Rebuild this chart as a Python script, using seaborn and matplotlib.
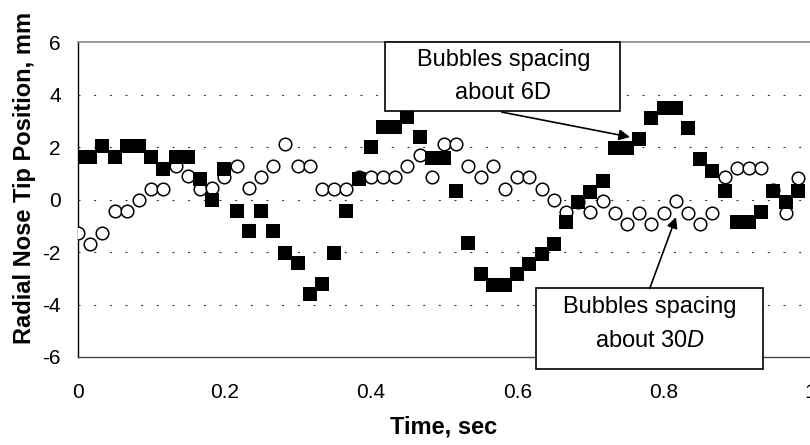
import numpy as np
import pandas as pd
import matplotlib
matplotlib.use("Agg")
import matplotlib.pyplot as plt
import seaborn as sns
from matplotlib.patches import Rectangle

# ---- data ----
dt = 1.0 / 60.0
squares_6D = [1.63, 1.63, 2.03, 1.63, 2.03, 2.03, 1.63, 1.18, 1.63, 1.63,
              0.78, 0.00, 1.18, -0.44, -1.20, -0.44, -1.19, -2.02, -2.43, -3.60,
              -3.22, -2.04, -0.42, 0.78, 1.99, 2.78, 2.78, 3.13, 2.37, 1.58,
              1.58, 0.34, -1.67, -2.84, -3.27, -3.27, -2.85, -2.46, -2.08, -1.70,
              -0.87, -0.10, 0.30, 0.72, 1.98, 1.98, 2.32, 3.10, 3.49, 3.49,
              2.71, 1.54, 1.10, 0.31, -0.87, -0.87, -0.48, 0.31, -0.10, 0.31]
circles_30D = [-1.28, -1.71, -1.26, -0.45, -0.45, 0.00, 0.41, 0.41, 1.26, 0.90,
               0.41, 0.45, 0.86, 1.26, 0.44, 0.86, 1.26, 2.13, 1.26, 1.26,
               0.41, 0.41, 0.41, 0.86, 0.86, 0.86, 0.86, 1.26, 1.68, 0.86,
               2.13, 2.13, 1.26, 0.86, 1.26, 0.41, 0.86, 0.86, 0.41, 0.00,
               -0.47, -0.10, -0.47, -0.05, -0.50, -0.92, -0.50, -0.94, -0.50, -0.05,
               -0.50, -0.94, -0.50, 0.86, 1.21, 1.21, 1.21, 0.35, -0.50, 0.82]
time_s = [i * dt for i in range(len(squares_6D))]
x_ticks = [0, 0.2, 0.4, 0.6, 0.8, 1.0]
x_ticklabels = ["0", "0.2", "0.4", "0.6", "0.8", "1"]
y_ticks = [-6, -4, -2, 0, 2, 4, 6]
y_ticklabels = ["-6", "-4", "-2", "0", "2", "4", "6"]

df = pd.DataFrame({"time": time_s, "s6": squares_6D, "s30": circles_30D})

sns.set_theme(style="white")
plt.rcParams["font.family"] = ["Liberation Sans", "DejaVu Sans"]
plt.rcParams["mathtext.fontset"] = "custom"
plt.rcParams["mathtext.rm"] = "Liberation Sans"
plt.rcParams["mathtext.it"] = "Liberation Sans:italic"
for key in ["text.color", "axes.labelcolor", "xtick.color", "ytick.color"]:
    plt.rcParams[key] = "black"

fig = plt.figure(figsize=(8.10, 4.45), dpi=100)
ax = fig.add_axes([78 / 810, 88 / 445, 732 / 810, 315 / 445])

# grid
for yv in y_ticks[1:-1]:
    ax.axhline(yv, color="#333333", lw=0.8, ls=(0, (1.8, 12.3)), zorder=0)

sns.scatterplot(data=df, x="time", y="s30", ax=ax, marker="o", s=82,
                facecolor="white", edgecolor="black", linewidth=1.1, zorder=3)
sns.scatterplot(data=df, x="time", y="s6", ax=ax, marker="s", s=105,
                color="black", edgecolor="black", linewidth=0, zorder=4)

ax.set_xlim(0, 1.0)
ax.set_ylim(-6, 6)
ax.set_xticks(x_ticks)
ax.set_xticklabels(x_ticklabels)
ax.set_yticks(y_ticks)
ax.set_yticklabels(y_ticklabels)
ax.tick_params(axis="both", direction="inout", length=9, width=0.8,
               color="black", labelsize=15, pad=8, labelcolor="black")
ax.tick_params(axis="x", pad=14)
ax.set_xlabel("Time, sec", fontsize=17, fontweight="bold", labelpad=10)
ax.set_ylabel("Radial Nose Tip Position, mm", fontsize=17, fontweight="bold")
ax.yaxis.set_label_coords(-0.057, 0.568)

for side in ["left", "bottom"]:
    ax.spines[side].set_color("black")
    ax.spines[side].set_linewidth(1.0)
ax.spines["bottom"].set_color("#444444")
ax.spines["top"].set_color("#888888")
ax.spines["top"].set_linewidth(1.2)
ax.spines["right"].set_visible(False)

# annotation 1: 6D
ax.add_patch(Rectangle((0.419, 3.39), 0.322, 2.61, facecolor="white",
                       edgecolor="black", lw=1.2, zorder=6, clip_on=False))
ax.text(0.581, 5.30, "Bubbles spacing", ha="center", va="center", fontsize=17, zorder=7)
ax.text(0.581, 4.07, "about 6D", ha="center", va="center", fontsize=17, zorder=7)
ax.annotate("", xy=(0.754, 2.38), xytext=(0.579, 3.33),
            arrowprops=dict(arrowstyle="-|>", color="black", lw=1.2,
                            mutation_scale=16, shrinkA=0, shrinkB=0), zorder=7)

# annotation 2: 30D
ax.add_patch(Rectangle((0.626, -6.46), 0.310, 3.07, facecolor="white",
                       edgecolor="black", lw=1.2, zorder=6, clip_on=False))
ax.text(0.781, -4.10, "Bubbles spacing", ha="center", va="center", fontsize=17, zorder=7,
        clip_on=False)
ax.text(0.781, -5.39, "about 30$\\it{D}$", ha="center", va="center", fontsize=17, zorder=7,
        clip_on=False)
ax.annotate("", xy=(0.817, -0.67), xytext=(0.781, -3.39),
            arrowprops=dict(arrowstyle="-|>", color="black", lw=1.2,
                            mutation_scale=16, shrinkA=0, shrinkB=0), zorder=7)

fig.savefig("out.png", dpi=100)
